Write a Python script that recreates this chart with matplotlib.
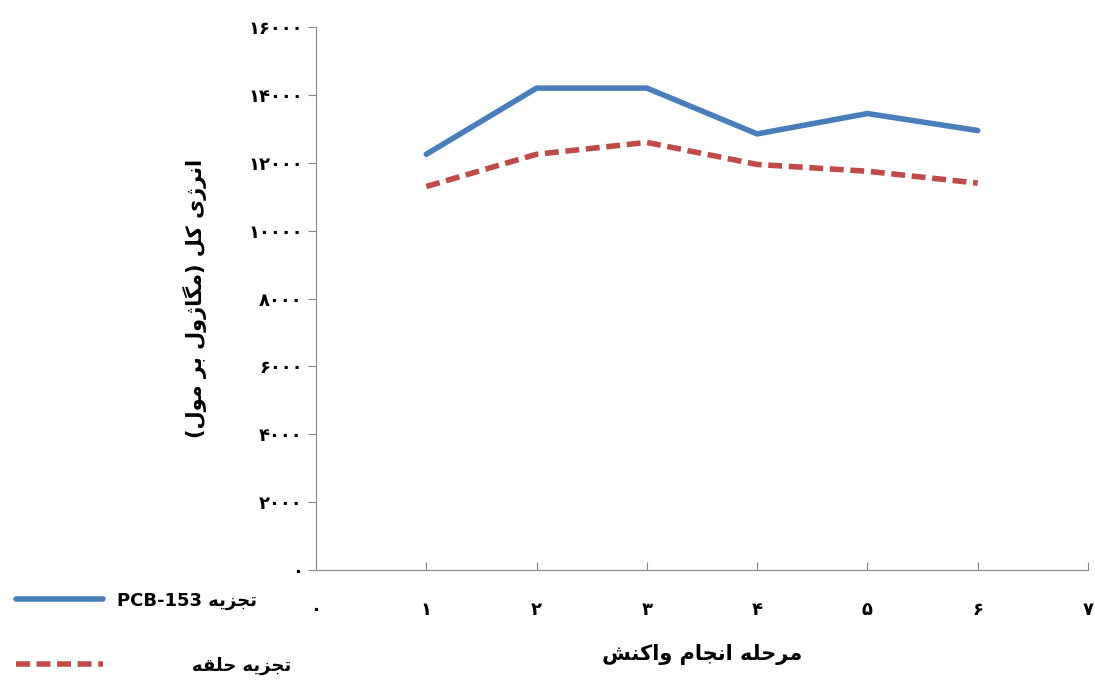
import numpy as np
import matplotlib
matplotlib.use('Agg')
import matplotlib.pyplot as plt

steps = [1, 2, 3, 4, 5, 6]
pcb = [12250, 14200, 14200, 12850, 13450, 12950]
ring = [11300, 12250, 12600, 11950, 11750, 11400]
fa = '۰۱۲۳۴۵۶۷۸۹'

# minimal Arabic shaping (iso, fin, ini, med)
forms = {
    'ا': (0xFE8D, 0xFE8E), 'د': (0xFEA9, 0xFEAA), 'ر': (0xFEAD, 0xFEAE),
    'ز': (0xFEAF, 0xFEB0), 'ژ': (0xFB8A, 0xFB8B), 'و': (0xFEED, 0xFEEE),
    'ب': (0xFE8F, 0xFE90, 0xFE91, 0xFE92), 'ت': (0xFE95, 0xFE96, 0xFE97, 0xFE98),
    'ج': (0xFE9D, 0xFE9E, 0xFE9F, 0xFEA0), 'ح': (0xFEA1, 0xFEA2, 0xFEA3, 0xFEA4),
    'ش': (0xFEB5, 0xFEB6, 0xFEB7, 0xFEB8), 'ق': (0xFED5, 0xFED6, 0xFED7, 0xFED8),
    'ک': (0xFB8E, 0xFB8F, 0xFB90, 0xFB91), 'گ': (0xFB92, 0xFB93, 0xFB94, 0xFB95),
    'ل': (0xFEDD, 0xFEDE, 0xFEDF, 0xFEE0), 'م': (0xFEE1, 0xFEE2, 0xFEE3, 0xFEE4),
    'ن': (0xFEE5, 0xFEE6, 0xFEE7, 0xFEE8), 'ه': (0xFEE9, 0xFEEA, 0xFEEB, 0xFEEC),
    'ی': (0xFBFC, 0xFBFD, 0xFBFE, 0xFBFF),
}

def shape(s):
    out = []
    for i, c in enumerate(s):
        if c not in forms:
            out.append({'(': ')', ')': '('}.get(c, c))
            continue
        prev = s[i-1] if i > 0 else ''
        nxt = s[i+1] if i < len(s)-1 else ''
        jp = prev in forms and len(forms[prev]) == 4
        jn = nxt in forms and len(forms[c]) == 4
        f = forms[c]
        if jp and jn: k = 3
        elif jn: k = 2
        elif jp: k = 1
        else: k = 0
        out.append(chr(f[k]))
    return ''.join(out[::-1])

def fnum(v):
    return ''.join(fa[int(d)] for d in str(v))

plt.rcParams['font.family'] = ['DejaVu Sans']
plt.rcParams['font.weight'] = 'bold'
fig = plt.figure(figsize=(10.95, 7.0), dpi=100)
ax = fig.add_axes([316/1095, 1-570/700, (1088-316)/1095, (570-27)/700])

l1, = ax.plot(steps, pcb, color='#4a7ebb', lw=4, solid_capstyle='round')
l2, = ax.plot(steps, ring, color='#be4b48', lw=4, ls=(0, (2.5, 1.2)))

ax.set_xlim(0, 7)
ax.set_ylim(0, 16000)
ax.set_xticks(range(8))
ax.set_xticklabels([fnum(v) for v in range(8)], fontsize=13)
yt = list(range(0, 16001, 2000))
ax.set_yticks(yt)
ax.set_yticklabels([fnum(v) for v in yt], fontsize=13)
ax.tick_params(axis='x', length=6, pad=22, direction='in', color='#888888')
ax.tick_params(axis='y', length=6, color='#888888')
for s in ['top', 'right']:
    ax.spines[s].set_visible(False)
for s in ['left', 'bottom']:
    ax.spines[s].set_color('#888888')

ax.set_xlabel(shape('مرحله انجام واکنش'), fontsize=15, fontweight='bold', labelpad=18)
ax.set_ylabel(shape('انرژی کل (مگاژول بر مول)'), fontsize=15, fontweight='bold', labelpad=30)

fig.legend([l1, l2], ['PCB-153 ' + shape('تجزیه'), '            ' + shape('تجزیه حلقه')],
           loc='upper left', bbox_to_anchor=(0.0, 1-575/700), frameon=False,
           handlelength=4.8, labelspacing=2.6, fontsize=13)

fig.savefig('out.png', dpi=100)
